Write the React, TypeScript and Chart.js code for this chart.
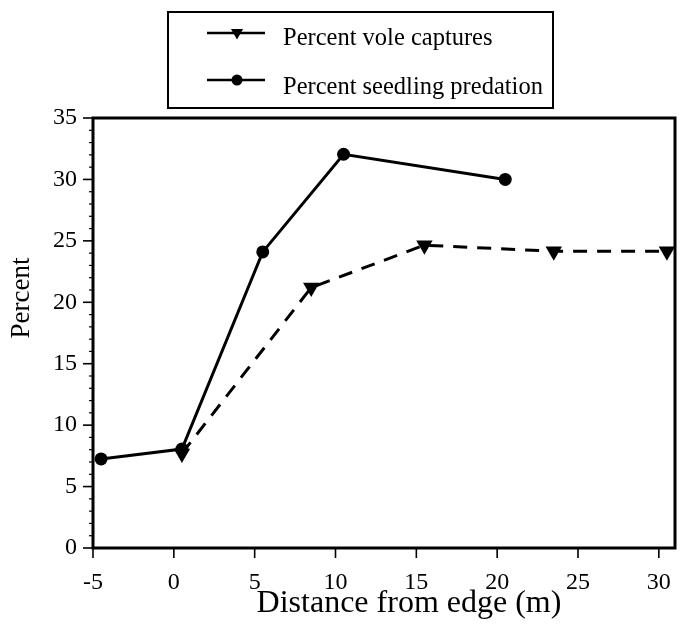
import React, { useEffect, useRef } from "react";
import { Chart, registerables } from "chart.js";

Chart.register(...registerables);

const seedlingX = [-4.5, 0.5, 5.5, 10.5, 20.5];
const seedlingY = [7.25, 8.05, 24.1, 32.05, 30.0];
const voleX = [0.5, 8.5, 15.5, 23.5, 30.5];
const voleY = [7.7, 21.2, 24.65, 24.15, 24.15];
const xTickValues = [-5, 0, 5, 10, 15, 20, 25, 30];
const yTickValues = [0, 5, 10, 15, 20, 25, 30, 35];
const yMinorStep = 1;
const seriesLabels = ["Percent vole captures", "Percent seedling predation"];
const xTitle = "Distance from edge (m)";
const yTitle = "Percent";

const FONT = "'Liberation Serif', 'Times New Roman', serif";

function drawTriangleDown(ctx: CanvasRenderingContext2D, x: number, y: number, r: number) {
  ctx.beginPath();
  ctx.moveTo(x, y + r);
  ctx.lineTo(x - r * Math.sin(Math.PI / 3), y - r / 2);
  ctx.lineTo(x + r * Math.sin(Math.PI / 3), y - r / 2);
  ctx.closePath();
  ctx.fill();
}

const decorPlugin = {
  id: "decor",
  afterDraw(chart: any) {
    const ctx: CanvasRenderingContext2D = chart.ctx;
    const { left, top, right, bottom } = chart.chartArea;
    const xs = chart.scales.x;
    const ys = chart.scales.y;
    ctx.save();
    ctx.strokeStyle = "#000";
    ctx.fillStyle = "#000";
    // frame
    ctx.lineWidth = 3;
    ctx.strokeRect(left, top, right - left, bottom - top);
    // y ticks
    for (let v = ys.min; v <= ys.max + 1e-9; v += yMinorStep) {
      const major = yTickValues.includes(v);
      const y = ys.getPixelForValue(v);
      ctx.lineWidth = major ? 1.6 : 1.2;
      ctx.beginPath();
      ctx.moveTo(left - (major ? 10 : 4), y);
      ctx.lineTo(left, y);
      ctx.stroke();
    }
    // x ticks
    ctx.lineWidth = 1.6;
    for (const v of xTickValues) {
      const x = xs.getPixelForValue(v);
      ctx.beginPath();
      ctx.moveTo(x, bottom);
      ctx.lineTo(x, bottom + 10);
      ctx.stroke();
    }
    // x title
    ctx.font = `32px ${FONT}`;
    ctx.textAlign = "center";
    ctx.textBaseline = "alphabetic";
    ctx.fillText(xTitle, 409, 612);
    // y title
    ctx.save();
    ctx.translate(29, 298);
    ctx.rotate(-Math.PI / 2);
    ctx.font = `27px ${FONT}`;
    ctx.textAlign = "center";
    ctx.textBaseline = "alphabetic";
    ctx.fillText(yTitle, 0, 0);
    ctx.restore();
    // legend box
    ctx.lineWidth = 2;
    ctx.strokeRect(168, 12, 553 - 168, 108 - 12);
    // legend entries
    ctx.lineWidth = 2.5;
    ctx.beginPath();
    ctx.moveTo(207, 33);
    ctx.lineTo(265, 33);
    ctx.stroke();
    drawTriangleDown(ctx, 237, 32.5, 7);
    ctx.beginPath();
    ctx.moveTo(207, 80);
    ctx.lineTo(265, 80);
    ctx.stroke();
    ctx.beginPath();
    ctx.arc(237, 80, 5.5, 0, Math.PI * 2);
    ctx.fill();
    ctx.font = `24.5px ${FONT}`;
    ctx.textAlign = "left";
    ctx.fillText(seriesLabels[0], 283, 45);
    ctx.fillText(seriesLabels[1], 283, 94);
    ctx.restore();
  },
};

export default function App() {
  const ref = useRef<HTMLCanvasElement>(null);
  useEffect(() => {
    document.body.style.margin = "0";
    const canvas = ref.current!;
    const chart = new Chart(canvas, {
      type: "line",
      data: {
        datasets: [
          {
            label: seriesLabels[0],
            data: voleX.map((x, i) => ({ x, y: voleY[i] })),
            borderColor: "#000",
            backgroundColor: "#000",
            borderWidth: 3,
            borderDash: [14, 10],
            pointStyle: "triangle",
            pointRotation: 180,
            pointRadius: 9.5,
            pointBorderWidth: 0,
            pointBackgroundColor: "#000",
            tension: 0,
            clip: false as any,
          },
          {
            label: seriesLabels[1],
            data: seedlingX.map((x, i) => ({ x, y: seedlingY[i] })),
            borderColor: "#000",
            backgroundColor: "#000",
            borderWidth: 3,
            pointStyle: "circle",
            pointRadius: 6.5,
            pointBorderWidth: 0,
            pointBackgroundColor: "#000",
            tension: 0,
            clip: false as any,
          },
        ],
      },
      options: {
        responsive: false,
        animation: false,
        events: [],
        layout: { autoPadding: false, padding: { top: 118, right: 6, left: 0, bottom: 0 } },
        plugins: { legend: { display: false }, tooltip: { enabled: false } },
        scales: {
          x: {
            type: "linear",
            min: -5,
            max: 31,
            grid: { display: false },
            border: { display: false },
            afterBuildTicks: (s: any) => {
              s.ticks = xTickValues.map((v) => ({ value: v }));
            },
            afterFit: (s: any) => {
              s.height = 82;
              s.paddingLeft = 0;
              s.paddingRight = 0;
            },
            ticks: {
              color: "#000",
              padding: 12,
              maxRotation: 0,
              font: { family: FONT, size: 24 },
            },
          },
          y: {
            type: "linear",
            min: 0,
            max: 35,
            grid: { display: false },
            border: { display: false },
            afterBuildTicks: (s: any) => {
              s.ticks = yTickValues.map((v) => ({ value: v }));
            },
            afterFit: (s: any) => {
              s.width = 93;
              s.paddingTop = 0;
              s.paddingBottom = 0;
            },
            ticks: {
              color: "#000",
              padding: 8,
              font: { family: FONT, size: 24 },
            },
          },
        },
      },
      plugins: [decorPlugin],
    });
    return () => chart.destroy();
  }, []);
  return <canvas ref={ref} width={681} height={630} style={{ display: "block" }} />;
}
